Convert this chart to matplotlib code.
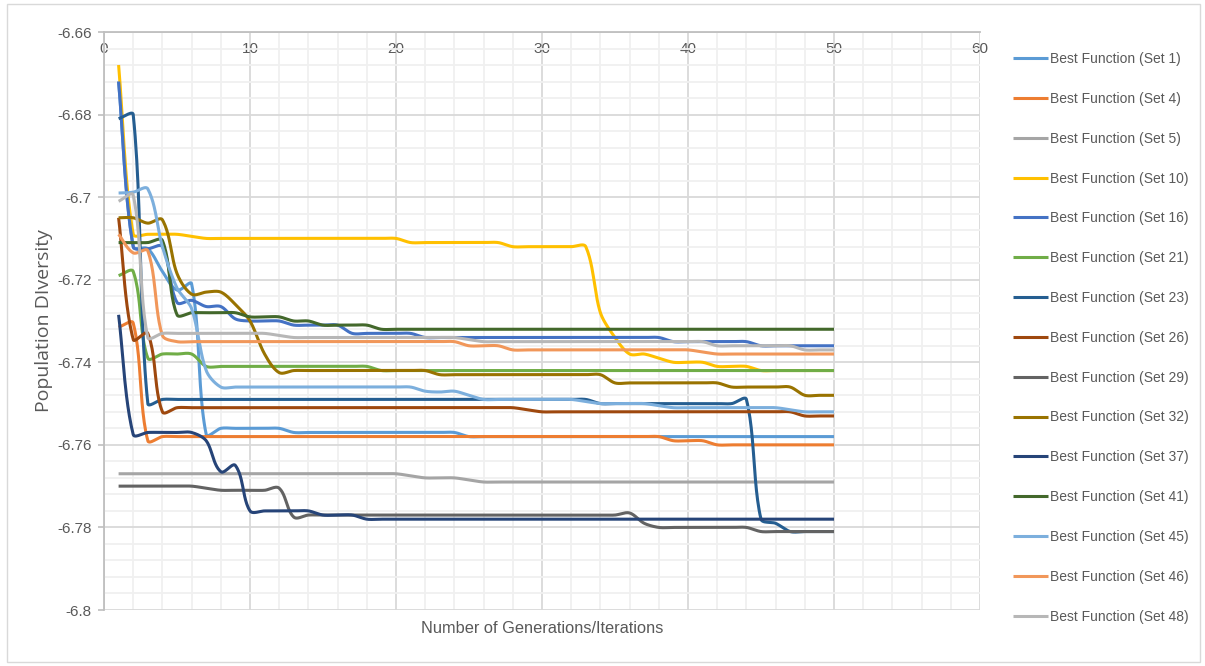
import matplotlib.pyplot as plt
import numpy as np
from matplotlib.patches import Rectangle

# Generations 1..50
generations = np.arange(1, 51)

# Values (flat stretches written as repeats)
set_1 = [-6.672, -6.712, -6.7125, -6.718, -6.7225, -6.721, -6.7575] + [-6.756]*5 + [-6.757]*12 + [-6.758]*26
set_4 = [-6.7315, -6.7305, -6.759] + [-6.758]*35 + [-6.759]*3 + [-6.760]*9
set_5 = [-6.767]*20 + [-6.7675] + [-6.768]*3 + [-6.7685] + [-6.769]*25
set_10 = ([-6.668, -6.709, -6.709, -6.709, -6.709, -6.7095] + [-6.710]*14 + [-6.711]*7 + [-6.712]*6
          + [-6.728, -6.734, -6.738, -6.738, -6.739, -6.740, -6.740, -6.740, -6.741, -6.741, -6.741, -6.742]
          + [-6.742]*5)
set_16 = ([-6.672, -6.712, -6.7125, -6.712, -6.7255, -6.725, -6.7265, -6.7265, -6.7295, -6.730, -6.730, -6.730]
          + [-6.731]*4 + [-6.733]*5 + [-6.734]*17 + [-6.735]*6 + [-6.736]*6)
set_21 = [-6.719, -6.718, -6.739, -6.738, -6.738, -6.738] + [-6.741]*12 + [-6.742]*32
set_23 = [-6.681, -6.680, -6.750] + [-6.749]*30 + [-6.750]*10 + [-6.749, -6.778, -6.779] + [-6.781]*4
set_26 = [-6.705, -6.7345, -6.733, -6.752] + [-6.751]*24 + [-6.7515] + [-6.752]*18 + [-6.753]*3
set_29 = ([-6.770]*6 + [-6.7705] + [-6.771]*4 + [-6.7705, -6.7775] + [-6.777]*22
          + [-6.7765, -6.779] + [-6.780]*7 + [-6.781]*6)
set_32 = ([-6.705, -6.705, -6.7063, -6.7055, -6.7185, -6.7235, -6.723, -6.723, -6.726, -6.730, -6.738, -6.7425]
          + [-6.742]*10 + [-6.743]*12 + [-6.745]*8 + [-6.746]*5 + [-6.748]*3)
set_37 = ([-6.7285, -6.7575, -6.757, -6.757, -6.757, -6.757, -6.759, -6.7665, -6.765, -6.776,
           -6.776, -6.776, -6.776, -6.776] + [-6.777]*3 + [-6.778]*33)
set_41 = ([-6.711, -6.711, -6.711, -6.7105, -6.7285, -6.728, -6.728, -6.728, -6.728, -6.729,
           -6.729, -6.729, -6.730, -6.730] + [-6.731]*4 + [-6.732]*32)
set_45 = ([-6.699, -6.6988, -6.698, -6.712, -6.722, -6.727, -6.742] + [-6.746]*14
          + [-6.747, -6.7472, -6.747, -6.748] + [-6.749]*7 + [-6.7495] + [-6.750]*4 + [-6.7505]
          + [-6.751]*8 + [-6.7515] + [-6.752]*3)
set_46 = [-6.709, -6.7135, -6.713, -6.7335] + [-6.735]*20 + [-6.736]*3 + [-6.737]*13 + [-6.7375] + [-6.738]*9
set_48 = ([-6.701, -6.6995, -6.734] + [-6.733]*8 + [-6.7335] + [-6.734]*12 + [-6.7345]
          + [-6.735]*16 + [-6.736]*6 + [-6.737]*3)

series = [set_1, set_4, set_5, set_10, set_16, set_21, set_23, set_26,
          set_29, set_32, set_37, set_41, set_45, set_46, set_48]
names = ['Best Function (Set %d)' % n for n in [1, 4, 5, 10, 16, 21, 23, 26, 29, 32, 37, 41, 45, 46, 48]]
colors = ['#5B9BD5', '#ED7D31', '#A5A5A5', '#FFC000', '#4472C4', '#70AD47', '#255E91', '#9E480E',
          '#636363', '#997300', '#264478', '#43682B', '#7CAFDD', '#F1975A', '#B7B7B7']

XMIN, XMAX, YMIN, YMAX = 0, 60, -6.8, -6.66
AX_W, AX_H = 876, 578  # axes size in pixels


def smooth(xs, ys, k=0.3, n=24):
    # Excel-like smoothed line: Bezier segments, control arms scaled by segment length (screen space)
    fx = AX_W / (XMAX - XMIN)
    fy = AX_H / (YMAX - YMIN)
    P = np.column_stack([np.asarray(xs, float) * fx, np.asarray(ys, float) * fy])
    N = len(P)
    t = np.linspace(0, 1, n, endpoint=False)[:, None]
    pts = []
    for i in range(N - 1):
        p1, p2 = P[i], P[i+1]
        p0 = P[i-1] if i > 0 else p1
        p3 = P[i+2] if i + 2 < N else p2
        d1 = p2 - p0
        d1 = d1 / np.hypot(*d1)
        d2 = p3 - p1
        d2 = d2 / np.hypot(*d2)
        L = np.hypot(*(p2 - p1))
        c1 = p1 + d1 * L * k
        c2 = p2 - d2 * L * k
        seg = ((1-t)**3) * p1 + 3*((1-t)**2)*t * c1 + 3*(1-t)*t**2 * c2 + t**3 * p2
        pts.append(seg)
    pts.append(P[-1:])
    pts = np.vstack(pts)
    return pts[:, 0] / fx, pts[:, 1] / fy


font = ['Liberation Sans', 'DejaVu Sans']
grey_text = '#595959'

fig = plt.figure(figsize=(12.05, 6.66), dpi=100)
ax = fig.add_axes([104/1205, 1 - 610/666, AX_W/1205, AX_H/666])

for ys, name, c in zip(series, names, colors):
    sx, sy = smooth(generations, ys)
    ax.plot(sx, sy, color=c, lw=2.2, label=name, solid_capstyle='butt')

ax.set_xlim(XMIN, XMAX)
ax.set_ylim(YMIN, YMAX)
ax.set_xticks(np.arange(0, 61, 10))
ax.set_xticks(np.arange(0, 61, 2), minor=True)
ax.set_yticks(np.linspace(-6.8, -6.66, 8))
ax.set_yticklabels(['-6.8', '-6.78', '-6.76', '-6.74', '-6.72', '-6.7', '-6.68', '-6.66'])
ax.set_yticks(np.linspace(-6.8, -6.66, 36), minor=True)

ax.grid(which='major', color='#D9D9D9', lw=1.3)
ax.grid(which='minor', color='#F0F0F0', lw=1.3)
ax.set_axisbelow(True)

for s in ['right', 'bottom']:
    ax.spines[s].set_visible(False)
for s in ['left', 'top']:
    ax.spines[s].set_color('#BFBFBF')
    ax.spines[s].set_linewidth(1.3)

ax.xaxis.tick_top()
ax.tick_params(axis='x', which='major', length=0, pad=-17, labelsize=11, labelcolor=grey_text)
ax.tick_params(axis='y', which='major', length=4, color='#BFBFBF', width=1.2, pad=5,
               labelsize=11, labelcolor=grey_text)
ax.tick_params(which='minor', length=0)
for lab in ax.get_xticklabels() + ax.get_yticklabels():
    lab.set_family(font)

ax.xaxis.set_label_position('bottom')
ax.set_xlabel('Number of Generations/Iterations', fontsize=11.8, color=grey_text,
              family=font, labelpad=8)
ax.set_ylabel('Population DIversity', fontsize=14, color=grey_text,
              family=['Open Sans', 'DejaVu Sans'], labelpad=3)

leg = ax.legend(loc='upper left', bbox_to_anchor=(1013/1205, 1 - 52/666),
                bbox_transform=fig.transFigure, frameon=False,
                prop={'family': font, 'size': 10}, handlelength=2.5,
                handletextpad=0.2, labelspacing=1.86, borderpad=0, borderaxespad=0)
for t in leg.get_texts():
    t.set_color(grey_text)

fig.patches.append(Rectangle((7/1205, 4/666), 1193/1205, 658/666, transform=fig.transFigure,
                             fill=False, ec='#D9D9D9', lw=1))

plt.savefig('out.png', dpi=100)
